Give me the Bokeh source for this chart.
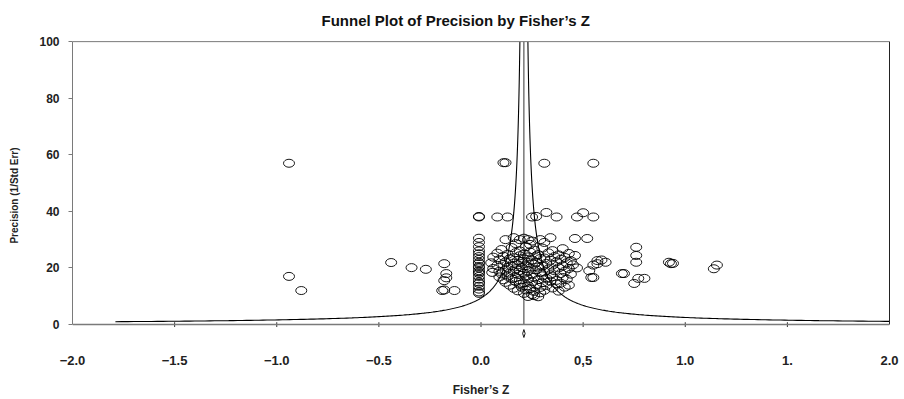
import numpy as np
from bokeh.plotting import figure
from bokeh.models import Range1d, LinearAxis, FixedTicker, Span, ColumnDataSource
from bokeh.embed import file_html
from bokeh.resources import INLINE

# ---------------- data ----------------
title_text = "Funnel Plot of Precision by Fisher\u2019s Z"
x_label = "Fisher\u2019s Z"
y_label = "Precision (1/Std Err)"

x_ticks = [-2.0, -1.5, -1.0, -0.5, 0.0, 0.5, 1.0, 1.5, 2.0]
x_tick_labels = ["\u22122.0", "\u22121.5", "\u22121.0", "\u22120.5", "0.0", "0,5", "1.0", "1.", "2.0"]
y_ticks = [0, 20, 40, 60, 80, 100]

mean_z = 0.21          # summary Fisher's Z
ci_half = 0.006        # half width of the summary diamond

# outliers and small groups
fz_outer = [-0.94, -0.94, -0.88, -0.44, -0.34, -0.27,
            -0.18, -0.17, -0.17, -0.18, -0.19, -0.18, -0.13,
            0.11, 0.12, 0.31, 0.55,
            0.08, 0.13, 0.25, 0.27, 0.32, 0.37, 0.47, 0.50, 0.55,
            0.12, 0.16, 0.19, 0.21, 0.23, 0.25, 0.29, 0.31, 0.34, 0.46, 0.52,
            0.46, 0.47, 0.57, 0.61, 0.55, 0.53, 0.55, 0.57, 0.59, 0.54,
            0.76, 0.76, 0.76, 0.69, 0.70, 0.75, 0.77, 0.80,
            0.92, 0.94, 0.93, 1.14, 1.155]
pr_outer = [57.0, 17.0, 12.0, 21.9, 20.1, 19.5,
            21.5, 18.0, 16.5, 15.5, 12.0, 12.2, 12.0,
            57.2, 57.2, 57.0, 57.0,
            38.0, 38.0, 38.0, 38.2, 39.6, 38.0, 38.0, 39.5, 38.0,
            30.0, 30.7, 30.0, 30.5, 30.0, 29.5, 30.0, 29.0, 30.7, 30.4, 30.4,
            24.4, 20.0, 22.6, 22.0, 21.0, 19.0, 16.6, 21.5, 22.8, 16.6,
            27.3, 24.4, 22.0, 18.0, 18.0, 14.5, 16.3, 16.3,
            22.0, 21.6, 21.5, 19.7, 21.0]

# column of studies at Fisher's Z ~ 0
fz_zero = [-0.01] * 24
pr_zero = [38.0, 38.2, 30.5, 29.0, 27.5, 26.0, 25.0, 24.0, 23.0, 22.0, 21.5, 20.5,
           20.0, 19.0, 18.5, 18.0, 17.0, 16.0, 15.0, 14.5, 13.5, 12.5, 11.5, 11.0]

# main cluster
fz_core = [0.10, 0.15, 0.19, 0.22, 0.26, 0.30, 0.35, 0.40, 0.24, 0.17,
           0.08, 0.13, 0.17, 0.21, 0.24, 0.28, 0.33, 0.38, 0.43,
           0.06, 0.11, 0.16, 0.19, 0.23, 0.27, 0.31, 0.36, 0.41,
           0.09, 0.14, 0.18, 0.21, 0.25, 0.29, 0.34, 0.39, 0.44,
           0.05, 0.12, 0.16, 0.20, 0.23, 0.27, 0.32, 0.37, 0.42,
           0.08, 0.11, 0.15, 0.18, 0.22, 0.26, 0.30, 0.35, 0.40, 0.45,
           0.06, 0.13, 0.17, 0.20, 0.24, 0.28, 0.33, 0.38, 0.43,
           0.09, 0.12, 0.16, 0.19, 0.23, 0.27, 0.31, 0.36, 0.41,
           0.055, 0.10, 0.14, 0.18, 0.21, 0.25, 0.29, 0.34, 0.39, 0.44,
           0.09, 0.13, 0.17, 0.22, 0.26, 0.30, 0.35, 0.40,
           0.11, 0.15, 0.19, 0.23, 0.28, 0.32, 0.37, 0.42,
           0.12, 0.17, 0.21, 0.25, 0.30, 0.34, 0.39,
           0.14, 0.19, 0.23, 0.27, 0.32, 0.37, 0.43,
           0.16, 0.20, 0.24, 0.29, 0.35, 0.41,
           0.18, 0.22, 0.26, 0.31, 0.38,
           0.21, 0.25, 0.29,
           0.23, 0.26, 0.28]
pr_core = [26.5, 27.2, 26.0, 27.5, 26.3, 27.0, 26.1, 26.8, 28.3, 28.6,
           25.2, 24.8, 25.4, 24.9, 25.6, 24.7, 25.3, 24.6, 25.1,
           23.8, 24.1, 23.6, 24.3, 23.9, 24.2, 23.5, 24.0, 23.7,
           22.9, 23.2, 22.6, 23.1, 22.8, 23.3, 22.7, 23.0, 22.5,
           21.8, 22.1, 21.7, 22.3, 21.9, 22.0, 21.6, 22.2, 21.8,
           20.9, 21.2, 20.7, 21.1, 20.8, 21.3, 20.6, 21.0, 20.7, 21.1,
           19.8, 20.2, 19.7, 20.1, 19.9, 20.3, 19.6, 20.0, 19.8,
           18.8, 19.2, 18.7, 19.1, 18.9, 19.3, 18.6, 19.0, 18.8,
           18.4, 17.9, 18.2, 17.7, 18.1, 17.8, 18.3, 17.6, 18.0, 17.8,
           16.8, 17.1, 16.6, 17.0, 16.7, 17.2, 16.9, 16.6,
           15.8, 16.2, 15.7, 16.1, 15.9, 16.3, 15.6, 16.0,
           14.9, 15.2, 14.7, 15.1, 14.8, 15.3, 14.6,
           13.9, 14.2, 13.7, 14.1, 13.8, 14.3, 13.9,
           12.8, 13.2, 12.7, 13.1, 12.9, 13.2,
           11.9, 12.2, 11.7, 12.1, 11.8,
           11.0, 10.6, 11.2,
           9.9, 10.2, 9.8]

fisher_z = fz_outer + fz_zero + fz_core
precision = pr_outer + pr_zero + pr_core

# ---------------- figure ----------------
FONT = "Liberation Sans"
AX_GRAY = "#7a7a7a"

p = figure(width=904, height=399, output_backend="svg", toolbar_location=None,
           x_range=Range1d(-2, 2), y_range=Range1d(-9.2, 100.4),
           min_border_left=72, min_border_right=15, min_border_top=40, min_border_bottom=49)
p.grid.visible = False
p.outline_line_color = None

p.title.text = title_text
p.title.align = "left"
p.title.vertical_align = "top"
p.title.offset = 249
p.title.standoff = 19
p.title.text_font = FONT
p.title.text_font_size = "15px"
p.title.text_font_style = "bold"
p.title.text_color = "#111111"

# y axis (left)
ya = p.yaxis[0]
ya.bounds = (0, 100)
ya.ticker = FixedTicker(ticks=y_ticks)
ya.minor_tick_line_color = None
ya.major_tick_in = 0
ya.major_tick_out = 4
ya.major_tick_line_color = AX_GRAY
ya.axis_line_color = AX_GRAY
ya.major_label_standoff = 9
ya.major_label_text_font = FONT
ya.major_label_text_font_size = "12px"
ya.major_label_text_font_style = "bold"
ya.major_label_text_color = "#222222"
ya.axis_label = y_label
ya.axis_label_text_font = FONT
ya.axis_label_text_font_size = "10px"
ya.axis_label_text_font_style = "bold"
ya.axis_label_text_color = "#222222"
ya.axis_label_standoff = 16

# x axis (labels only; its line is drawn at y = 0)
xa = p.xaxis[0]
xa.ticker = FixedTicker(ticks=x_ticks)
xa.major_label_overrides = {t: l for t, l in zip(x_ticks, x_tick_labels)}
xa.axis_line_color = None
xa.major_tick_line_color = None
xa.minor_tick_line_color = None
xa.major_tick_in = 0
xa.major_tick_out = 0
xa.major_label_standoff = 5
xa.major_label_text_font = FONT
xa.major_label_text_font_size = "13px"
xa.major_label_text_font_style = "bold"
xa.major_label_text_color = "#222222"
xa.axis_label = x_label
xa.axis_label_text_font = FONT
xa.axis_label_text_font_size = "12px"
xa.axis_label_text_font_style = "bold"
xa.axis_label_text_color = "#222222"
xa.axis_label_standoff = 15

# right frame line
right_ax = LinearAxis(bounds=(0, 100), ticker=FixedTicker(ticks=[]), axis_line_color="#222222",
                      major_tick_line_color=None, minor_tick_line_color=None,
                      major_label_text_font_size="0px")
p.add_layout(right_ax, "right")

# top frame line and x axis line at precision 0
p.add_layout(Span(location=100, dimension="width", line_color=AX_GRAY, line_width=1))
p.add_layout(Span(location=0, dimension="width", line_color=AX_GRAY, line_width=1.3))
inner_ticks = [t for t in x_ticks if -2 < t < 2]
p.segment(x0=inner_ticks, y0=[-0.9] * len(inner_ticks), x1=inner_ticks, y1=[0.8] * len(inner_ticks),
          line_color="#333333", line_width=1)

# funnel (95% limits) and mean line
funnel_prec = np.geomspace(0.98, 100, 300)
p.line(mean_z - 1.96 / funnel_prec, funnel_prec, line_color="black", line_width=1.1)
p.line(mean_z + 1.96 / funnel_prec, funnel_prec, line_color="black", line_width=1.1)
p.line([mean_z, mean_z], [0, 100], line_color="#333333", line_width=1)

# summary diamond under the axis
p.patch([mean_z, mean_z + ci_half, mean_z, mean_z - ci_half], [-1.8, -3.2, -4.6, -3.2],
        fill_color=None, line_color="black", line_width=0.9)

# studies
src = ColumnDataSource(dict(x=fisher_z, y=precision))
p.ellipse(x="x", y="y", width=11, height=8, width_units="screen", height_units="screen",
          fill_color=None, line_color="black", line_width=0.9, source=src)

open("out.html", "w").write(file_html(p, INLINE))
